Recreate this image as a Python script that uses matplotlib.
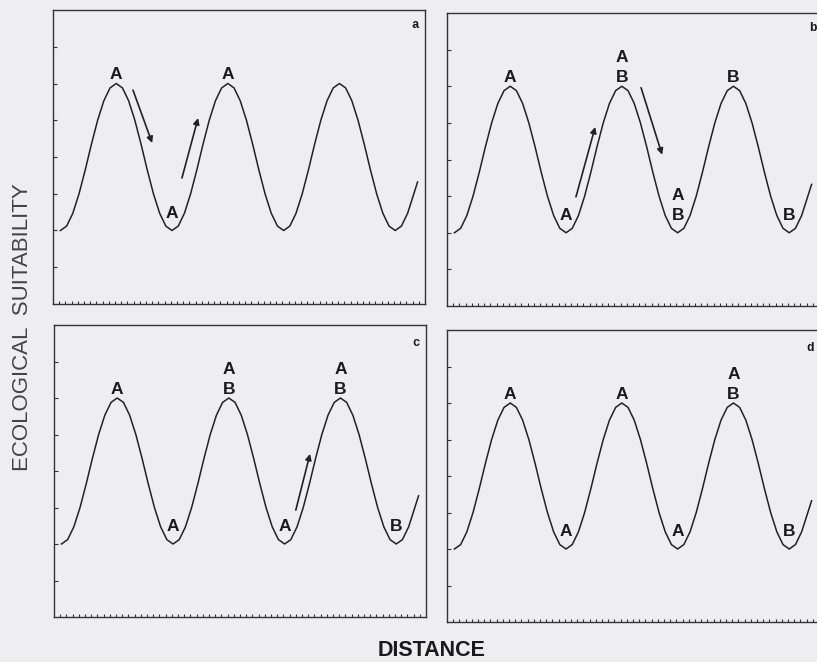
import matplotlib
matplotlib.use("Agg")
import matplotlib.pyplot as plt

plt.rcParams["font.family"] = ["Liberation Sans", "DejaVu Sans"]

# curve vertices (distance, suitability), same in all panels
curve_x = [1.2, 2.2, 3.2, 4.2, 5.2, 6.2, 7.2, 8.2, 9.2, 10.2, 11.2, 12.2, 13.2, 14.2, 15.2,
           16.2, 17.2, 18.2, 19.2, 20.2, 21.2, 22.2, 23.2, 24.2, 25.2, 26.2, 27.2, 28.2,
           29.2, 30.2, 31.2, 32.2, 33.2, 34.2, 35.2, 36.2, 37.2, 38.2, 39.2, 40.2, 41.2,
           42.2, 43.2, 44.2, 45.2, 46.2, 47.2, 48.2, 49.2, 50.2, 51.2, 52.2, 53.2, 54.2,
           55.2, 56.2, 57.2, 58.2, 58.8]
curve_y = [2.0, 2.12, 2.47, 3.0, 3.65, 4.35, 5.0, 5.53, 5.88, 6.0, 5.88, 5.53, 5.0, 4.35, 3.65,
           3.0, 2.47, 2.12, 2.0, 2.12, 2.47, 3.0, 3.65, 4.35, 5.0, 5.53, 5.88, 6.0,
           5.88, 5.53, 5.0, 4.35, 3.65, 3.0, 2.47, 2.12, 2.0, 2.12, 2.47, 3.0, 3.65,
           4.35, 5.0, 5.53, 5.88, 6.0, 5.88, 5.53, 5.0, 4.35, 3.65, 3.0, 2.47, 2.12,
           2.0, 2.12, 2.47, 3.0, 3.32]

# peak / trough positions along the distance axis
extrema_x = [10.2, 19.2, 28.2, 37.2, 46.2, 55.2]
extrema_kind = ["peak", "trough", "peak", "trough", "peak", "trough"]

panel_names = ["a", "b", "c", "d"]
# populations living at each extremum (top to bottom), "" = none
panel_labels = {
    "a": ["A", "A", "A", "", "", ""],
    "b": ["A", "A", "AB", "AB", "B", "B"],
    "c": ["A", "A", "AB", "A", "AB", "B"],
    "d": ["A", "A", "A", "A", "AB", "B"],
}
# dispersal arrows: (x0, y0, x1, y1)
panel_arrows = {
    "a": [(12.9, 5.82, 16.0, 4.38), (20.8, 3.43, 23.4, 5.06)],
    "b": [(20.8, 2.98, 23.9, 4.89), (31.3, 5.96, 34.7, 4.13)],
    "c": [(39.0, 2.93, 41.3, 4.47)],
    "d": [],
}

W, H = 817, 662
# axes boxes in pixels: left, top, bottom
boxes = {
    "a": (53, 10, 304),
    "b": (447, 13, 306),
    "c": (54, 325, 617),
    "d": (447, 330, 622),
}
box_w = 372
letter_pos = {"a": (0.973, 0.95), "b": (0.984, 0.95), "c": (0.973, 0.94), "d": (0.976, 0.94)}

fig = plt.figure(figsize=(W / 100, H / 100), dpi=100)
fig.patch.set_facecolor("#eeeef0")

for name in panel_names:
    left, top, bottom = boxes[name]
    ax = fig.add_axes([left / W, 1 - bottom / H, box_w / W, (bottom - top) / H])
    ax.set_facecolor("#eeeef0")
    ax.plot(curve_x, curve_y, color="#222222", lw=1.1)
    ax.set_xlim(0, 60)
    ax.set_ylim(0, 8)
    ax.set_yticks(range(1, 8))
    ax.set_xticks(range(1, 60))
    ax.tick_params(axis="y", direction="in", length=3, width=0.8, colors="#333333",
                   labelleft=False)
    ax.tick_params(axis="x", direction="in", length=2, width=0.8, colors="#333333",
                   labelbottom=False)
    for sp in ax.spines.values():
        sp.set_linewidth(1.0)
        sp.set_color("#333333")

    for x, kind, lab in zip(extrema_x, extrema_kind, panel_labels[name]):
        base = 6.12 if kind == "peak" else 2.35
        for i, ch in enumerate(reversed(lab)):
            ax.text(x, base + i * 0.55, ch, ha="center", va="baseline",
                    fontsize=12.5, fontweight="bold", color="#1a1a1a")

    for x0, y0, x1, y1 in panel_arrows[name]:
        ax.annotate("", xy=(x1, y1), xytext=(x0, y0),
                    arrowprops=dict(arrowstyle="-|>", color="#222222", lw=1.2,
                                    mutation_scale=9, shrinkA=0, shrinkB=0))

    lx, ly = letter_pos[name]
    ax.text(lx, ly, name, transform=ax.transAxes, ha="center", va="center",
            fontsize=9, fontweight="bold", family=["Liberation Mono", "DejaVu Sans"],
            color="#1a1a1a")

fig.text(23 / W, 1 - 327 / H, "ECOLOGICAL  SUITABILITY", rotation=90,
         ha="center", va="center", fontsize=16, color="#444444")
fig.text(432 / W, 1 - 650 / H, "DISTANCE", ha="center", va="center",
         fontsize=15.5, fontweight="bold", color="#1a1a1a")

fig.savefig("out.png", dpi=100, facecolor=fig.get_facecolor())
